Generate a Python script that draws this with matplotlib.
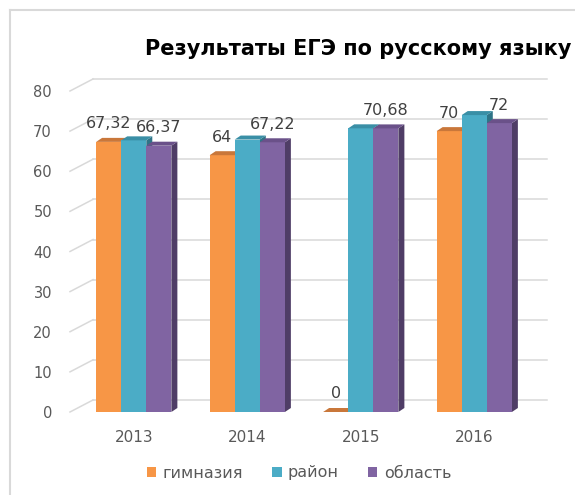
import matplotlib
matplotlib.use('Agg')
import matplotlib.pyplot as plt
import numpy as np
from matplotlib.patches import Polygon, Patch
from matplotlib.lines import Line2D
from matplotlib.transforms import ScaledTranslation

years = ['2013', '2014', '2015', '2016']
gymnasium = [67.32, 64, 0, 70]
district = [67.7, 67.9, 70.7, 74.0]
region = [66.37, 67.22, 70.68, 72]
yticks = [0, 10, 20, 30, 40, 50, 60, 70, 80]

series = [
    ('гимназия', gymnasium, '#F79646', '#C9773A', '#B0622A', True),
    ('район', district, '#4BACC6', '#3A8FA6', '#2F7487', False),
    ('область', region, '#8064A2', '#6A5189', '#4F3D66', True),
]

W, H, DPI = 575, 495, 100
fig = plt.figure(figsize=(W / DPI, H / DPI), dpi=DPI)

# axes box in pixels (front plane of the fake 3d chart)
left_px, right_px, bot_px, top_px = 77, 531, 412, 91
ax = fig.add_axes([left_px / W, (H - bot_px) / H, (right_px - left_px) / W, (bot_px - top_px) / H])
ax.set_xlim(-0.5, len(years) - 0.5)
ax.set_ylim(0, 80)
for s in ax.spines.values():
    s.set_visible(False)

px_x = (right_px - left_px) / (len(years))
px_y = (bot_px - top_px) / 80.0

# back wall gridlines + slanted connectors
back_dx, back_dy = 16, 12
grid_col = '#D9D9D9'
shift = ax.transData + ScaledTranslation(back_dx / DPI, back_dy / DPI, fig.dpi_scale_trans)
for v in yticks:
    ax.plot([-0.5, len(years) - 0.5], [v, v], color=grid_col, lw=1.1, transform=shift,
            clip_on=False, zorder=0)
    ax.plot([-0.5 - 7 / px_x, -0.5 + back_dx / px_x], [v, v + back_dy / px_y],
            color=grid_col, lw=1.1, clip_on=False, zorder=0)

# bars with top and side faces
width = 0.221
ddx, ddy = 6 / px_x, 4 / px_y
x = np.arange(len(years))
z = 2
for j, (name, vals, c_front, c_top, c_side, labelled) in enumerate(series):
    xs = x + (j - 1) * width
    for xi, h in zip(xs, vals):
        x0, x1 = xi - width / 2, xi + width / 2
        ax.add_patch(Polygon([(x1, 0), (x1 + ddx, ddy), (x1 + ddx, h + ddy), (x1, h)],
                             closed=True, fc=c_side, ec='none', zorder=z + j * 0.1))
        ax.bar(xi, h, width, color=c_front, zorder=z + j * 0.1 + 0.01)
        ax.add_patch(Polygon([(x0, h), (x1, h), (x1 + ddx, h + ddy), (x0 + ddx, h + ddy)],
                             closed=True, fc=c_top, ec='none', zorder=z + j * 0.1 + 0.02))
        if labelled:
            txt = ('%g' % h).replace('.', ',')
            ax.annotate(txt, (xi, h), xytext=(0, 13), textcoords='offset points',
                        ha='center', va='center', fontsize=11.5, color='#404040', zorder=10)
    z += 1

ax.set_yticks(yticks)
ax.set_yticklabels([str(v) for v in yticks], fontsize=10.5, color='#595959')
ax.set_xticks(x)
ax.set_xticklabels(years, fontsize=11, color='#595959')
ax.tick_params(axis='y', length=0, pad=18)
ax.tick_params(axis='x', length=0, pad=13)

fig.text(145 / W, 1 - 49 / H, 'Результаты ЕГЭ по русскому языку', ha='left', va='center',
         fontsize=15, fontweight='bold', color='black')

handles = [Patch(facecolor=s[2], edgecolor='none') for s in series]
fig.legend(handles, [s[0] for s in series], loc='center', bbox_to_anchor=(299 / W, 1 - 473 / H),
           ncol=3, frameon=False, fontsize=11.5, handlelength=0.6, handleheight=0.6,
           handletextpad=0.4, columnspacing=1.8, labelcolor='#595959')

# chart area border (left and top visible)
fig.add_artist(Line2D([10 / W, 10 / W], [0, 1 - 10 / H], color=grid_col, lw=1.5))
fig.add_artist(Line2D([10 / W, 1], [1 - 10 / H, 1 - 10 / H], color=grid_col, lw=1.5))

fig.savefig('out.png', dpi=DPI)
